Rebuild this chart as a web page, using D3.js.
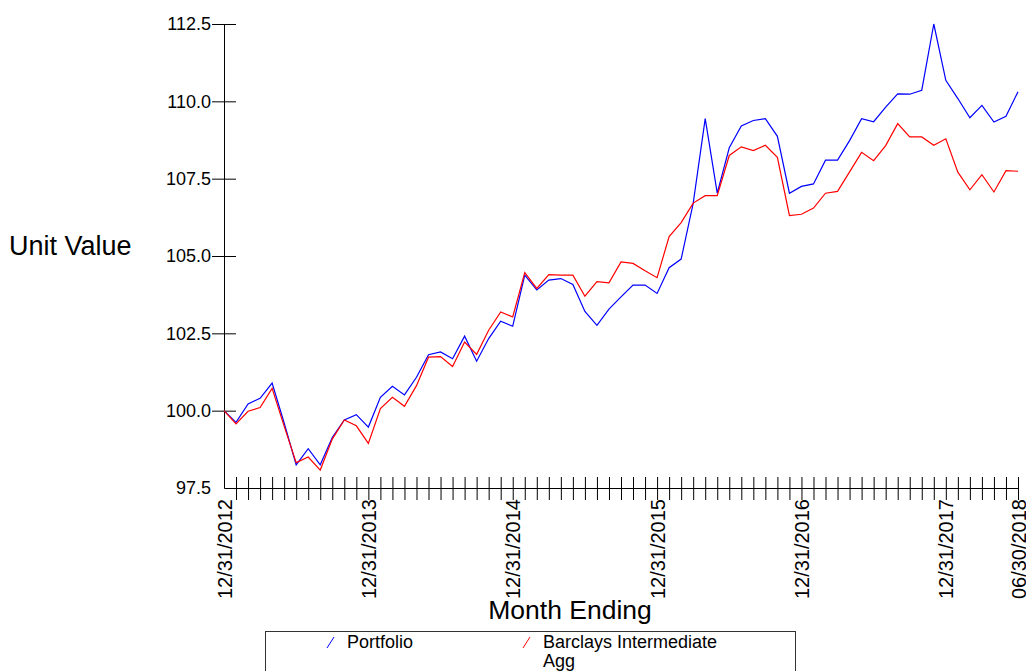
<html>
    <script src='https://d3js.org/d3.v7.min.js'></script>
    <style> body {margin: 0; background: white} </style>
    <head>
    </head>
    <body onload='init()'>
        <svg width=1026 height=671>
        </svg>
        <script>
            // month index 0 = 12/31/2012, 66 = 06/30/2018
            var tickMonths = [0, 12, 24, 36, 48, 60, 66];
            var tickLabels = ['12/31/2012', '12/31/2013', '12/31/2014', '12/31/2015', '12/31/2016', '12/31/2017', '06/30/2018'];
            var yTicks = [100, 102.5, 105, 107.5, 110, 112.5];
            var seriesNames = ['Portfolio', 'Barclays Intermediate Agg'];

            var portfolio = [100.0, 99.62, 100.22, 100.4, 100.89, 99.6, 98.25, 98.77, 98.25, 99.13, 99.7, 99.87,
                99.47, 100.43, 100.79, 100.51, 101.08, 101.81, 101.9, 101.68, 102.41, 101.6, 102.33, 102.89,
                102.73, 104.38, 103.9, 104.22, 104.27, 104.08, 103.21, 102.76, 103.28, 103.68, 104.06, 104.06,
                103.79, 104.62, 104.9, 106.7, 109.44, 107.03, 108.5, 109.2, 109.38, 109.44, 108.87, 107.03,
                107.25, 107.33, 108.1, 108.1, 108.73, 109.44, 109.34, 109.81, 110.24, 110.23, 110.36, 112.5,
                110.68, 110.09, 109.47, 109.87, 109.33, 109.52, 110.31];
            var benchmark = [100.0, 99.57, 99.98, 100.1, 100.72, 99.5, 98.32, 98.5, 98.08, 99.08, 99.7, 99.51,
                98.94, 100.07, 100.43, 100.14, 100.81, 101.73, 101.75, 101.43, 102.22, 101.82, 102.6, 103.19,
                103.03, 104.46, 103.95, 104.4, 104.38, 104.38, 103.7, 104.17, 104.13, 104.81, 104.76, 104.52,
                104.3, 105.63, 106.08, 106.71, 106.95, 106.95, 108.25, 108.53, 108.41, 108.58, 108.19, 106.31,
                106.35, 106.55, 107.03, 107.09, 107.72, 108.35, 108.08, 108.57, 109.28, 108.85, 108.85, 108.58,
                108.79, 107.71, 107.14, 107.63, 107.07, 107.76, 107.74];

            var font = 'Liberation Sans, Arial, sans-serif';
            var plotLeft = 224;
            var plotRight = 1018;
            var plotTop = 24;
            var plotBottom = 488;

            function init() {
                var svg = d3.select('svg');
                var colors = ['#0000FF', '#FF0000'];

                var x = d3.scaleLinear().domain([0, portfolio.length - 1]).range([plotLeft, plotRight]);
                var y = d3.scaleLinear().domain([97.5, 112.5]).range([plotBottom, plotTop]);

                /**
                 * Y-Axis, ticks cross the axis line
                 */
                var yAxis = svg.append('g')
                  .attr('transform', 'translate(' + plotLeft + ',0)')
                  .call(d3.axisLeft(y).tickValues(yTicks).tickSize(12).tickSizeOuter(0).tickFormat(d3.format('.1f')));
                yAxis.selectAll('.tick line').attr('x1', 12).attr('x2', -12);
                yAxis.selectAll('.tick text').attr('x', -13).style('font-family', font).style('font-size', '18px');
                // bottom label sits at the corner, no tick
                yAxis.append('text')
                  .attr('x', -13)
                  .attr('y', y(97.5))
                  .attr('dy', '0.32em')
                  .attr('text-anchor', 'end')
                  .attr('fill', 'black')
                  .style('font-family', font)
                  .style('font-size', '18px')
                  .text('97.5');

                /**
                 * X-Axis, one tick per month
                 */
                var xAxis = svg.append('g')
                  .attr('transform', 'translate(0,' + plotBottom + ')')
                  .call(d3.axisBottom(x).tickValues(d3.range(1, portfolio.length)).tickSize(12).tickSizeOuter(0).tickFormat(''));
                xAxis.selectAll('.tick line').attr('y1', -11).attr('y2', 12);

                var xLabels = svg.append('g')
                  .attr('transform', 'translate(0,' + plotBottom + ')')
                  .call(d3.axisBottom(x).tickValues(tickMonths).tickSize(0).tickFormat(function (d, i) { return tickLabels[i]; }));
                xLabels.select('.domain').remove();
                xLabels.selectAll('.tick text')
                  .attr('transform', 'rotate(-90)')
                  .attr('text-anchor', 'end')
                  .attr('x', -11)
                  .attr('y', 0)
                  .attr('dy', '0.35em')
                  .style('font-family', font)
                  .style('font-size', '20px');

                /**
                 * Lines
                 */
                var line = d3.line()
                  .x(function (d, i) { return x(i); })
                  .y(function (d) { return y(d); });

                [portfolio, benchmark].forEach(function (s, idx) {
                    svg.append('path')
                      .datum(s)
                      .attr('d', line)
                      .style('fill', 'none')
                      .style('stroke', colors[idx])
                      .style('stroke-width', 1.2);
                });

                /**
                 * Axis titles
                 */
                svg.append('text')
                  .attr('x', 9)
                  .attr('y', 255)
                  .style('font-family', font)
                  .style('font-size', '27px')
                  .style('fill', 'black')
                  .text('Unit Value');

                svg.append('text')
                  .attr('x', 570)
                  .attr('y', 619)
                  .attr('text-anchor', 'middle')
                  .style('font-family', font)
                  .style('font-size', '26.5px')
                  .style('fill', 'black')
                  .text('Month Ending');

                /**
                 * Legend
                 */
                svg.append('rect')
                  .attr('x', 265.5)
                  .attr('y', 631.5)
                  .attr('width', 530)
                  .attr('height', 60)
                  .style('fill', 'none')
                  .style('stroke', '#333')
                  .style('stroke-width', 1);

                var legendX = [327, 523];
                var legend = svg.append('g')
                  .selectAll('g')
                  .data(seriesNames)
                  .enter()
                  .append('g')
                  .attr('transform', function (d, idx) { return 'translate(' + legendX[idx] + ',0)'; });

                legend.append('line')
                  .attr('x1', 0)
                  .attr('y1', 648)
                  .attr('x2', 7)
                  .attr('y2', 637)
                  .style('stroke', function (d, idx) { return colors[idx]; })
                  .style('stroke-width', 1);

                legend.append('text')
                  .attr('x', 20)
                  .attr('y', 648)
                  .style('font-family', font)
                  .style('font-size', '18px')
                  .style('fill', 'black')
                  .each(function (d) {
                      var words = d === 'Barclays Intermediate Agg' ? ['Barclays Intermediate', 'Agg'] : [d];
                      var t = d3.select(this);
                      words.forEach(function (w, k) {
                          t.append('tspan').attr('x', 20).attr('dy', k === 0 ? 0 : 19).text(w);
                      });
                  });
            }
        </script>
    </body>
</html>
